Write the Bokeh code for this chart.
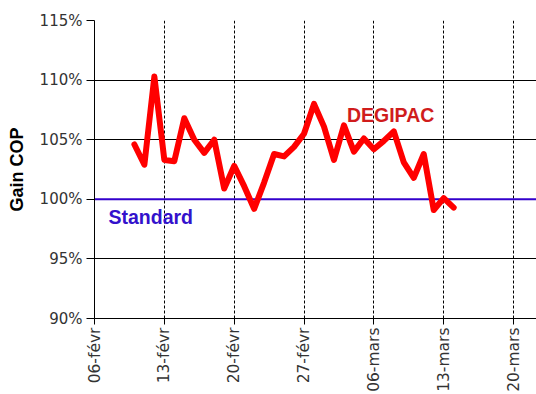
import pandas as pd
from bokeh.plotting import figure
from bokeh.models import Span, Label, FixedTicker, PrintfTickFormatter, Range1d
from bokeh.embed import file_html
from bokeh.resources import INLINE
from math import pi

# ---- data ----
start_date = "2006-02-06"
dates = pd.date_range("2006-02-10", "2006-03-14", freq="D")
gain_cop = [104.6, 102.9, 110.3, 103.3, 103.2, 106.8, 105.0, 103.9, 105.0, 100.9,
            102.8, 101.1, 99.2, 101.4, 103.8, 103.6, 104.4, 105.5, 108.0, 106.1,
            103.3, 106.2, 104.0, 105.1, 104.2, 104.9, 105.7, 103.1, 101.8, 103.8,
            99.1, 100.1, 99.3]
tick_dates = ["2006-02-06", "2006-02-13", "2006-02-20", "2006-02-27",
              "2006-03-06", "2006-03-13", "2006-03-20"]
tick_labels = ["06-févr", "13-févr", "20-févr", "27-févr", "06-mars", "13-mars", "20-mars"]
y_ticks = [90, 95, 100, 105, 110, 115]
standard_level = 100

t0 = pd.Timestamp(start_date)
x_end = t0 + pd.Timedelta(days=44.3)

def ms(t):
    return pd.Timestamp(t).value / 1e6

p = figure(width=536, height=394, x_axis_type="datetime",
           output_backend="svg", toolbar_location=None,
           x_range=Range1d(ms(t0), ms(x_end)), y_range=Range1d(90, 115),
           min_border_left=94, min_border_right=0, min_border_top=20,
           min_border_bottom=75)
p.outline_line_color = None
p.background_fill_color = "white"

# grids
p.ygrid.grid_line_color = "black"
p.ygrid.grid_line_width = 1
p.xgrid.grid_line_color = "black"
p.xgrid.grid_line_dash = "3 2"
p.xgrid.grid_line_width = 1

# x axis
tick_ms = [ms(d) for d in tick_dates]
p.xaxis.ticker = FixedTicker(ticks=tick_ms)
p.xaxis.major_label_overrides = {t: l for t, l in zip(tick_ms, tick_labels)}
p.xaxis.major_label_orientation = pi / 2
p.xaxis.minor_tick_line_color = None
p.xaxis.major_tick_in = 0
p.xaxis.major_tick_out = 6
p.xaxis.major_label_standoff = 3
p.xaxis.axis_line_color = "black"
p.xaxis.major_tick_line_color = "black"
p.xaxis.major_label_text_font = "DejaVu Sans"
p.xaxis.major_label_text_font_size = "15.5px"
p.xaxis.major_label_text_color = "#333333"

# y axis
p.yaxis.ticker = FixedTicker(ticks=y_ticks)
p.yaxis.formatter = PrintfTickFormatter(format="%d%%")
p.yaxis.minor_tick_line_color = None
p.yaxis.major_tick_in = 0
p.yaxis.major_tick_out = 8
p.yaxis.major_label_standoff = 4
p.yaxis.axis_line_color = "black"
p.yaxis.major_tick_line_color = "black"
p.yaxis.major_label_text_font = "DejaVu Sans"
p.yaxis.major_label_text_font_size = "15px"
p.yaxis.major_label_text_color = "#333333"
p.yaxis.axis_label = "Gain COP"
p.yaxis.axis_label_text_font = "Liberation Sans"
p.yaxis.axis_label_text_font_style = "bold"
p.yaxis.axis_label_text_font_size = "18px"
p.yaxis.axis_label_text_color = "black"
p.yaxis.axis_label_standoff = 10

# standard line
p.add_layout(Span(location=standard_level, dimension="width",
                  line_color="#3300CC", line_width=2, level="underlay"))

# DEGIPAC series
p.line(dates, gain_cop, line_color="#FF0000", line_width=6,
       line_join="round", line_cap="round")

p.add_layout(Label(x=ms(t0 + pd.Timedelta(days=25.3)), y=107.1, text="DEGIPAC",
                   text_font="Liberation Sans", text_font_style="bold",
                   text_font_size="19.5px", text_color="#D01C1C",
                   text_baseline="alphabetic", text_align="left"))
p.add_layout(Label(x=ms(t0 + pd.Timedelta(days=1.4)), y=98.5, text="Standard",
                   text_font="Liberation Sans", text_font_style="bold",
                   text_font_size="19.5px", text_color="#3311CC",
                   text_baseline="alphabetic", text_align="left"))

open("out.html", "w").write(file_html(p, INLINE))
